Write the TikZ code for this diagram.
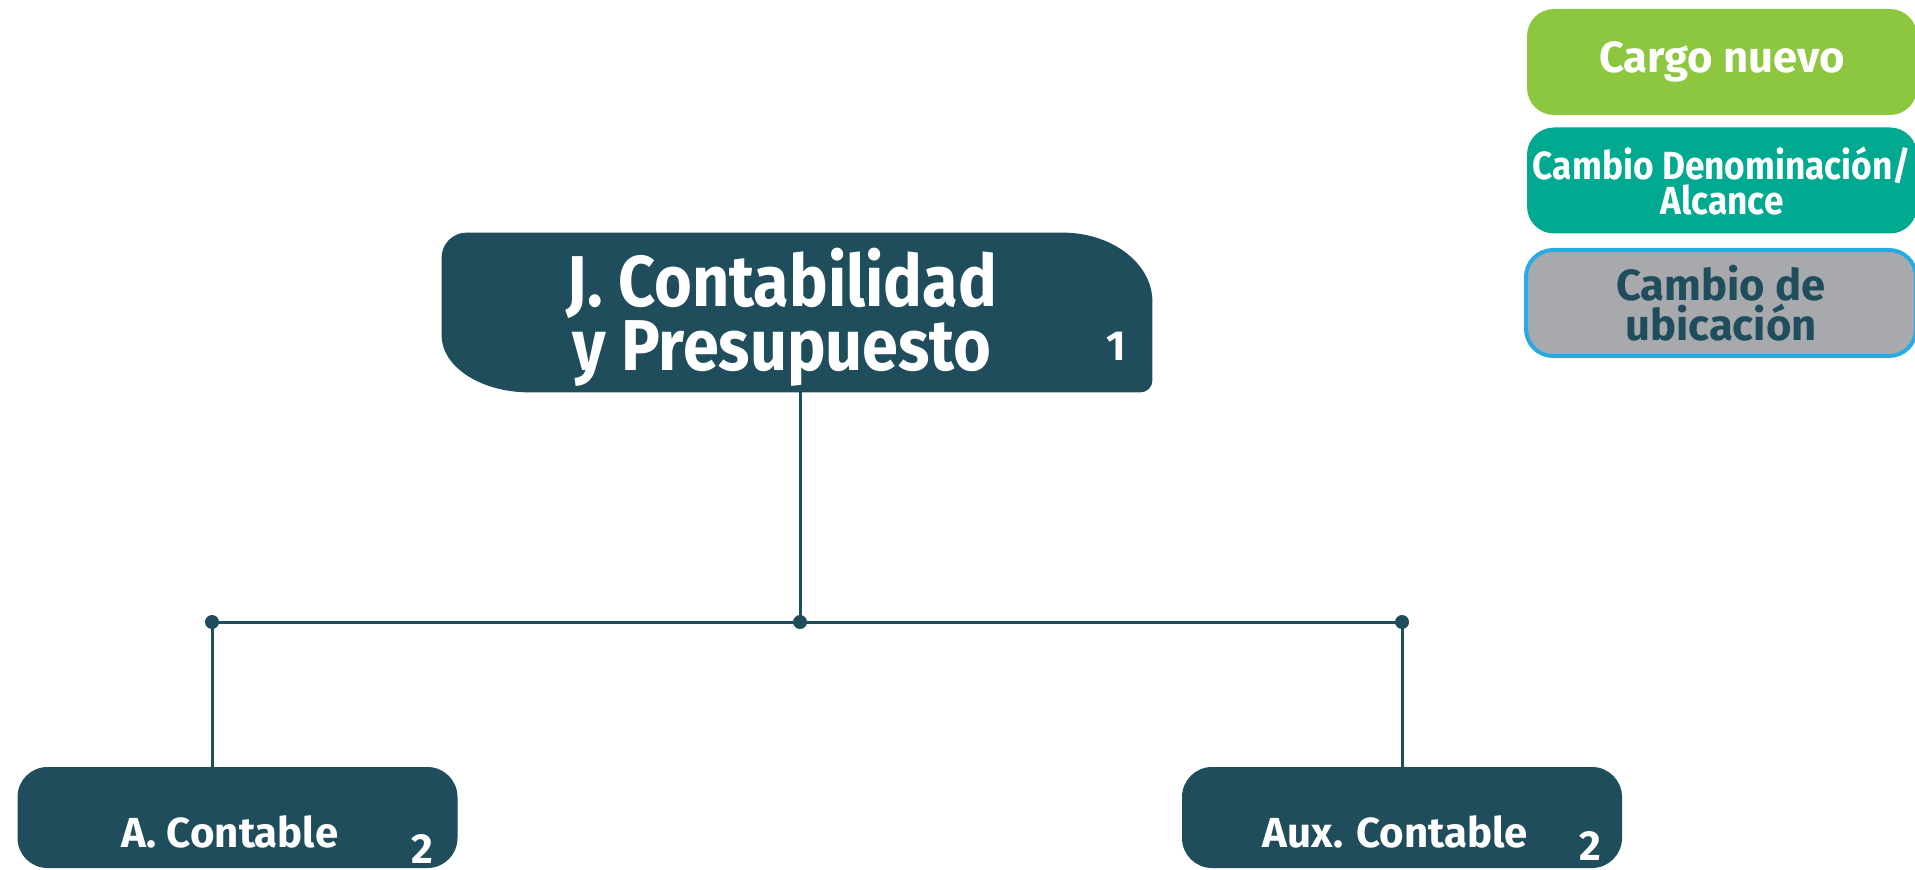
\documentclass[tikz,border=0pt]{standalone}
\usepackage{fontspec}
\setmainfont{Fira Sans}
\newfontfamily\narrowfont{Fira Sans}[FakeStretch=0.9]
\definecolor{orgteal}{RGB}{31, 77, 92}
\definecolor{newgreen}{RGB}{141, 198, 63}
\definecolor{renamegreen}{RGB}{0, 169, 143}
\definecolor{movegray}{RGB}{167, 169, 172}
\definecolor{moveblue}{RGB}{41, 171, 226}
\usetikzlibrary{calc, positioning}

\begin{document}
\begin{tikzpicture}[x=0.5pt, y=0.5pt,
  conn/.style={orgteal, line width=1.5pt},
  posbox/.style={fill=orgteal, rounded corners=15pt, inner sep=0pt, minimum width=220pt, minimum height=50.5pt},
  postext/.style={text=white, font=\fontsize{21}{21}\selectfont\bfseries, anchor=base, inner sep=0pt},
  legbox/.style={rounded corners=13.5pt, inner sep=0pt, minimum width=195pt, minimum height=53pt, align=center}]
  \useasboundingbox (0,0) rectangle (1915,869);
  \clip (0,0) rectangle (1915,869);

  % Jefe: box with two big corners
  \node[inner sep=0pt, minimum width=355pt, minimum height=79.5pt] (jefe) at (797,556.5) {};
  \fill[orgteal] ($(jefe.north west)+(25,0)$) -- ($(jefe.north east)+(-90,0)$)
    arc[start angle=90, end angle=0, x radius=90, y radius=69]
    -- ($(jefe.south east)+(0,12)$)
    arc[start angle=0, end angle=-90, radius=12]
    -- ($(jefe.south west)+(88,0)$)
    arc[start angle=270, end angle=180, x radius=88, y radius=57]
    -- ($(jefe.north west)+(0,-25)$)
    arc[start angle=180, end angle=90, radius=25] -- cycle;
  \node[text=white, align=center, font=\narrowfont\fontsize{36}{29}\selectfont\bfseries] (jefetxt) at (782,552) {J. Contabilidad\\ y Presupuesto};
  \node[postext] (jefenum) at (1116,509) {1};

  % Cargos bajo el jefe
  \node[posbox] (acontable) at (237.5,51.5) {};
  \node[postext] (acontabletxt) at (230,22) {A. Contable};
  \node[postext] (acontablenum) at (422,6) {2};
  \node[posbox] (auxcontable) at (1402,51.5) {};
  \node[postext] (auxcontabletxt) at (1395,22) {Aux. Contable};
  \node[postext] (auxcontablenum) at (1590,9) {2};

  % Connectors
  \coordinate (busl) at (212,247);
  \coordinate (bus) at (800,247);
  \coordinate (busr) at (1402,247);
  \draw[conn] (jefe.south -| bus) -- (bus);
  \draw[conn] (busl) -- (busr);
  \draw[conn] (busl) -- (acontable.north -| busl);
  \draw[conn] (busr) -- (auxcontable.north);
  \foreach \p in {busl, bus, busr} {
    \fill[orgteal] (\p) circle (7);
  }

  % Legend
  \node[legbox, fill=newgreen, text=white, font=\fontsize{21.8}{20}\selectfont\bfseries] (nuevo) at (1722,807) {Cargo nuevo};
  \node[legbox, fill=renamegreen, text=white, font=\narrowfont\fontsize{19.6}{17.5}\selectfont\bfseries] (cambio) at (1722,688.5) {Cambio Denominación/\\Alcance};
  \node[legbox, fill=movegray, draw=moveblue, line width=2pt, text=orgteal, font=\fontsize{21.8}{20}\selectfont\bfseries] (ubicacion) at (1721,566) {Cambio de\\ubicación};
\end{tikzpicture}
\end{document}
